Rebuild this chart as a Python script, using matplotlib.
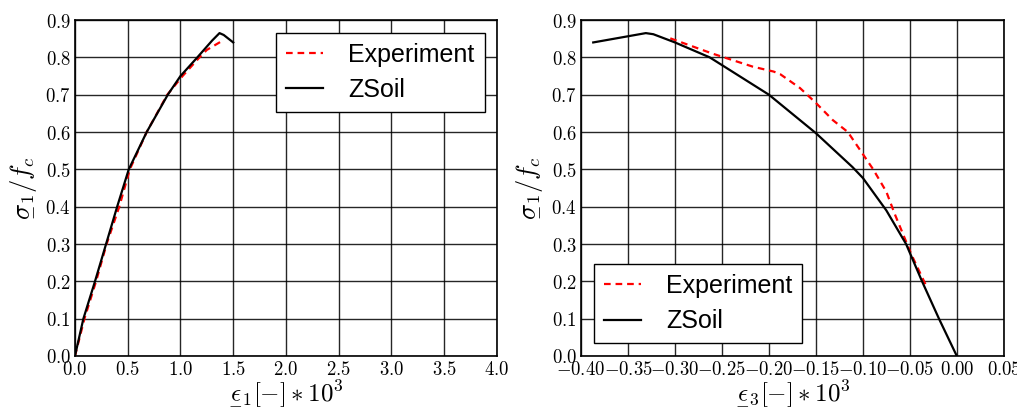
import matplotlib
matplotlib.use("Agg")
import matplotlib.pyplot as plt
import numpy as np
from matplotlib.ticker import FuncFormatter, MultipleLocator

# ── data ─────────────────────────────────────────────────────────────────────
# left panel: sigma_1/f_c vs eps_1 * 1e3
EXP1_X  = [0.0, 0.09, 0.20, 0.30, 0.42, 0.52, 0.68, 0.875, 1.02, 1.18, 1.25, 1.40]
EXP1_Y  = [0.0, 0.10, 0.20, 0.30, 0.40, 0.50, 0.60, 0.70, 0.75, 0.80, 0.82, 0.845]
ZS1_X   = [0.0, 0.04, 0.08, 0.19, 0.295, 0.40, 0.51, 0.68, 0.88, 1.00, 1.16, 1.30, 1.37, 1.41, 1.50]
ZS1_Y   = [0.0, 0.05, 0.10, 0.20, 0.30, 0.40, 0.50, 0.60, 0.70, 0.75, 0.80, 0.845, 0.865, 0.86, 0.84]

# right panel: sigma_1/f_c vs eps_3 * 1e3
EXP3_X  = [-0.305, -0.26, -0.217, -0.195, -0.188, -0.167, -0.150, -0.132, -0.116,
           -0.103, -0.089, -0.075, -0.066, -0.048, -0.033]
EXP3_Y  = [0.851, 0.81, 0.775, 0.762, 0.755, 0.718, 0.678, 0.632, 0.600,
           0.552, 0.500, 0.440, 0.380, 0.270, 0.190]
ZS3_X   = [-0.387, -0.331, -0.323, -0.300, -0.263, -0.200, -0.150, -0.111, -0.100,
           -0.075, -0.054, -0.037, -0.019, 0.0]
ZS3_Y   = [0.840, 0.865, 0.862, 0.840, 0.800, 0.700, 0.597, 0.506, 0.477,
           0.390, 0.300, 0.200, 0.100, 0.0]

plt.rcParams["mathtext.fontset"] = "cm"
LEG_FONT = {"family": "Liberation Sans", "size": 18}
DASH = (3, 2.2)


def style_axes(ax, xfmt):
    ax.grid(True, color="black", linestyle="-", linewidth=1.0, alpha=0.85)
    ax.set_axisbelow(True)
    ax.set_ylim(0, 0.9)
    ax.yaxis.set_major_locator(MultipleLocator(0.1))
    ax.yaxis.set_major_formatter(FuncFormatter(lambda v, p: r"$%.1f$" % v))
    ax.xaxis.set_major_formatter(FuncFormatter(lambda v, p: r"$%s$" % (xfmt % v)))
    ax.tick_params(direction="in", labelsize=13.5, length=0, pad=3)
    for s in ax.spines.values():
        s.set_linewidth(1.2)
    ax.set_ylabel(r"$\underset{-}{\sigma}_1/f_c$", fontsize=19, labelpad=6)


def add_legend(ax, loc):
    leg = ax.legend(loc=loc, prop=LEG_FONT, fancybox=False, framealpha=1,
                    edgecolor="black", handlelength=1.5, handletextpad=1.0,
                    borderpad=0.4, labelspacing=0.45, borderaxespad=0.5)
    leg.get_frame().set_linewidth(1.0)


fig = plt.figure(figsize=(10.17, 4.09), dpi=100)
ax1 = fig.add_axes([0.0737, 0.1296, 0.415, 0.8214])
ax2 = fig.add_axes([0.5713, 0.1296, 0.4157, 0.8214])

ax1.plot(EXP1_X, EXP1_Y, "r--", lw=1.6, dashes=DASH, label="Experiment")
ax1.plot(ZS1_X, ZS1_Y, "k-", lw=1.6, label="ZSoil")
ax1.set_xlim(0, 4.0)
ax1.xaxis.set_major_locator(MultipleLocator(0.5))
style_axes(ax1, "%.1f")
ax1.set_xlabel(r"$\underset{-}{\epsilon}_1[-]*10^3$", fontsize=18, labelpad=-1)
add_legend(ax1, "upper right")

ax2.plot(EXP3_X, EXP3_Y, "r--", lw=1.6, dashes=DASH, label="Experiment")
ax2.plot(ZS3_X, ZS3_Y, "k-", lw=1.6, label="ZSoil")
ax2.set_xlim(-0.40, 0.05)
ax2.xaxis.set_major_locator(MultipleLocator(0.05))
style_axes(ax2, "%.2f")
ax2.set_xlabel(r"$\underset{-}{\epsilon}_3[-]*10^3$", fontsize=18, labelpad=-1)
add_legend(ax2, "lower left")

fig.savefig("out.png", dpi=100)
